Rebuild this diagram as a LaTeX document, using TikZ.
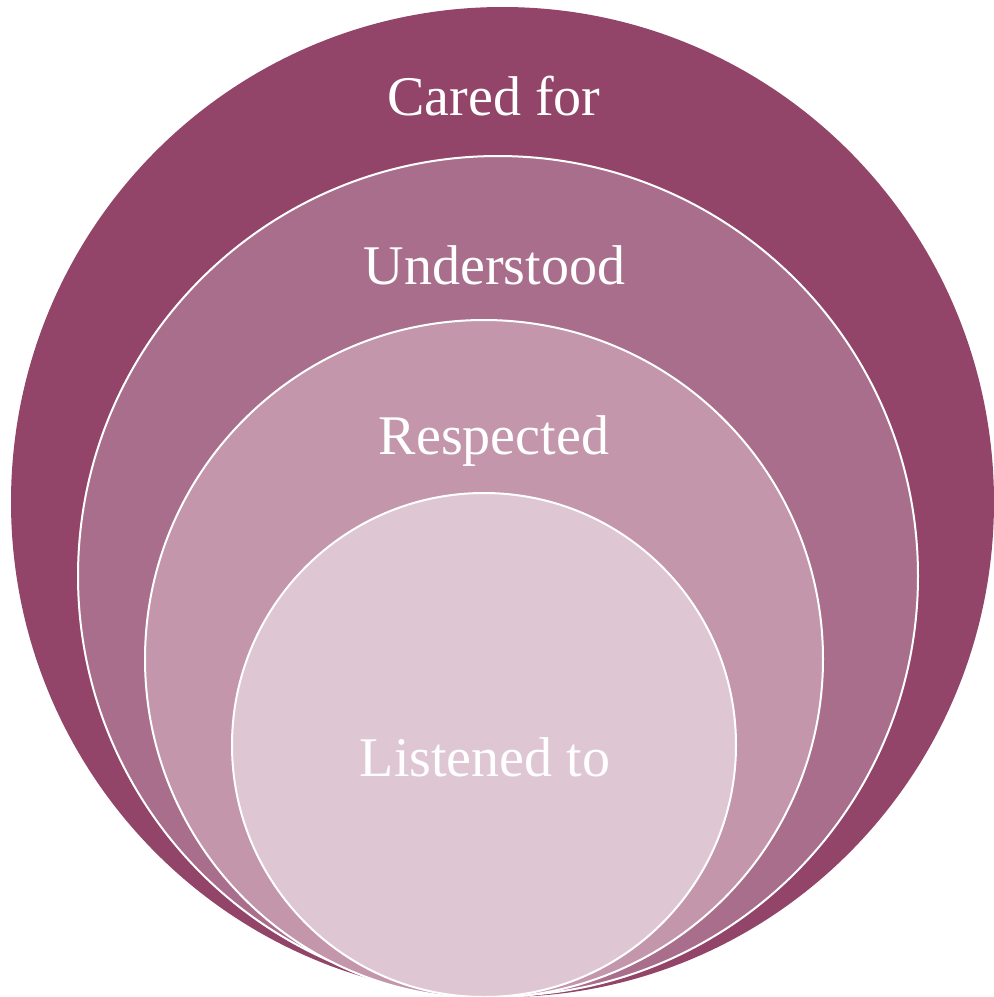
\documentclass[tikz,border=0pt]{standalone}
\usepackage{fontspec}
\setmainfont{Liberation Serif}
\usetikzlibrary{%
  shapes.geometric,% wg. ellipse
  positioning%
}
\definecolor{caredcol}{HTML}{924469}
\definecolor{understoodcol}{HTML}{A96E8B}
\definecolor{respectedcol}{HTML}{C396AB}
\definecolor{listenedcol}{HTML}{DFC6D3}
\begin{document}
\begin{tikzpicture}[x=1pt,y=-1pt,ring/.style={
	circle,
	inner sep=0pt,
	draw=white,
	line width=2pt
	},ringtext/.style={
	text=white,
	anchor=base,
	inner sep=0pt,
	font=\fontsize{56}{60}\selectfont
	}
]
\useasboundingbox (0,0) rectangle (994,997);

% circles, all touching at the bottom
\node (cared) [ellipse,inner sep=0pt,minimum width=983pt,minimum height=990pt,fill=caredcol] at (502.5,502) {};
\node (understood) [ring,minimum size=840pt,fill=understoodcol] at (498,576) {};
\node (respected) [ring,minimum size=678pt,fill=respectedcol] at (484,659) {};
\node (listened) [ring,minimum size=504pt,fill=listenedcol] at (484,745) {};

% labels
\node (caredtxt) [ringtext] at (494,115) {Cared for};
\node (understoodtxt) [ringtext] at (494.5,284) {Understood};
\node (respectedtxt) [ringtext] at (494,454) {Respected};
\node (listenedtxt) [ringtext] at (485,776) {Listened to};

\end{tikzpicture}
\end{document}
